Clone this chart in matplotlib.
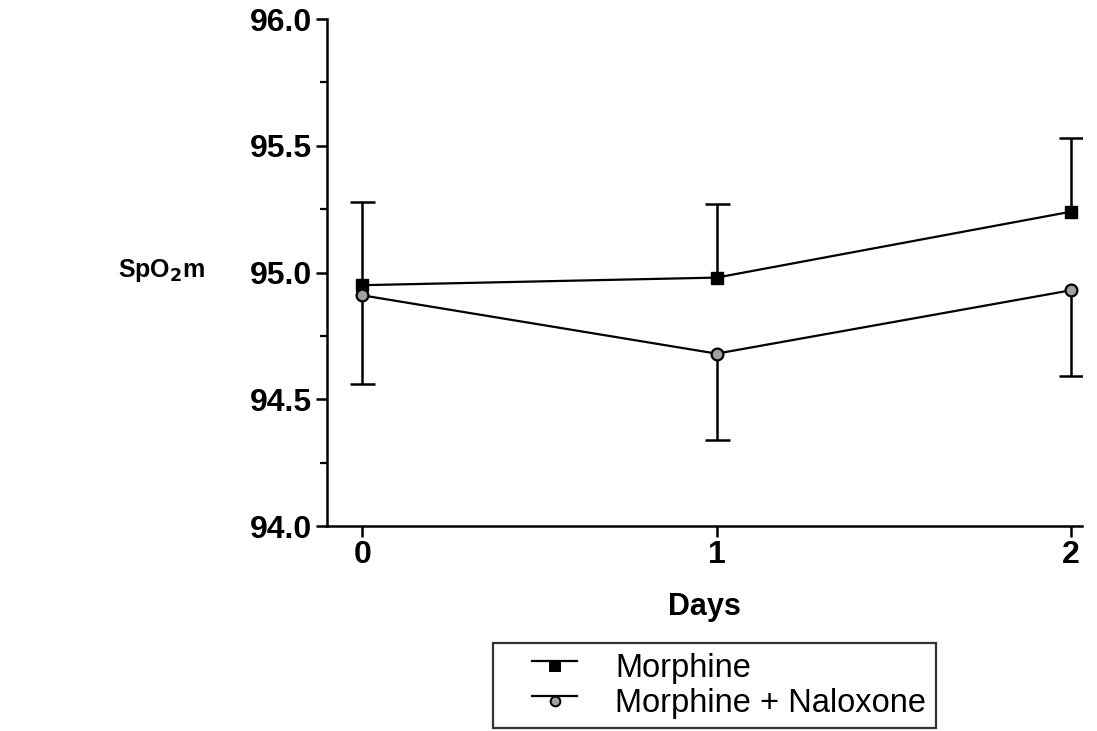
import matplotlib
matplotlib.use("Agg")
import matplotlib.pyplot as plt
from matplotlib.lines import Line2D
from matplotlib.legend_handler import HandlerBase
from matplotlib.ticker import MultipleLocator

plt.rcParams['font.family'] = ['Liberation Sans', 'DejaVu Sans']

# SpO2 means over three days; morphine SEM drawn upward, naloxone SEM downward
days = [0, 1, 2]
morphine = [94.95, 94.98, 95.24]
morphine_err = [0.33, 0.29, 0.29]
naloxone = [94.91, 94.68, 94.93]
naloxone_err = [0.35, 0.34, 0.34]

fig = plt.figure(figsize=(10.97, 7.31), dpi=100)
ax = fig.add_axes([0.298, 0.2804, 0.688, 0.6936])


def one_sided_err(x, y, err, sign):
    ends = [v + sign * e for v, e in zip(y, err)]
    ax.vlines(x, y, ends, color='black', lw=1.8, zorder=2)
    ax.plot(x, ends, ls='none', marker='_', ms=18, mew=1.8, color='black', zorder=2)


one_sided_err(days, morphine, morphine_err, +1)
one_sided_err(days, naloxone, naloxone_err, -1)

ax.plot(days, morphine, color='black', lw=1.6, marker='s', ms=8.5,
        mfc='black', mec='black', zorder=3)
ax.plot(days, naloxone, color='black', lw=1.6, marker='o', ms=8.5,
        mfc='#a0a0a0', mec='black', mew=1.6, zorder=3)

ax.set_xlim(-0.1, 2.03)
ax.set_ylim(94.0, 96.0)
ax.set_xticks(days)
ax.yaxis.set_major_locator(MultipleLocator(0.5))
ax.yaxis.set_minor_locator(MultipleLocator(0.25))
ax.yaxis.set_major_formatter(plt.FormatStrFormatter('%.1f'))

for side in ['top', 'right']:
    ax.spines[side].set_visible(False)
for side in ['left', 'bottom']:
    ax.spines[side].set_linewidth(1.8)

ax.tick_params(axis='both', which='major', length=8, width=1.8, labelsize=23, pad=3)
ax.tick_params(axis='x', which='major', pad=2)
ax.tick_params(axis='y', which='minor', length=5, width=1.6)
for lab in ax.get_xticklabels() + ax.get_yticklabels():
    lab.set_fontweight('bold')

ax.set_xlabel('Days', fontsize=22, fontweight='bold', labelpad=16)
fig.text(0.108, 0.630, r'SpO$_\mathbf{2}$m', fontsize=18, fontweight='bold',
         ha='left', va='center')


class ShortLineHandler(HandlerBase):
    """Legend key: short line on the right with the marker hanging below it."""

    def create_artists(self, legend, orig_handle, xdescent, ydescent,
                       width, height, fontsize, trans):
        y = height / 2 - ydescent + 3
        x0 = -xdescent + width * 0.39
        x1 = -xdescent + width
        line = Line2D([x0, x1], [y, y], color='black', lw=1.6)
        mark = Line2D([(x0 + x1) / 2], [y - 3.5], ls='none',
                      marker=orig_handle.get_marker(), ms=7,
                      mfc=orig_handle.get_markerfacecolor(),
                      mec='black', mew=1.4)
        line.set_transform(trans)
        mark.set_transform(trans)
        return [line, mark]


handles = [
    Line2D([], [], marker='s', mfc='black'),
    Line2D([], [], marker='o', mfc='#a0a0a0'),
]
leg = fig.legend(handles, ['Morphine', 'Morphine + Naloxone'],
                 handler_map={Line2D: ShortLineHandler()},
                 loc='upper left', bbox_to_anchor=(0.449, 0.1204),
                 fontsize=23.5, frameon=True, fancybox=False, edgecolor='black',
                 borderpad=0.3, borderaxespad=0, handlelength=2.3,
                 labelspacing=0.12, handletextpad=1.15)
leg.get_frame().set_linewidth(1.6)

fig.savefig('out.png', dpi=100)
